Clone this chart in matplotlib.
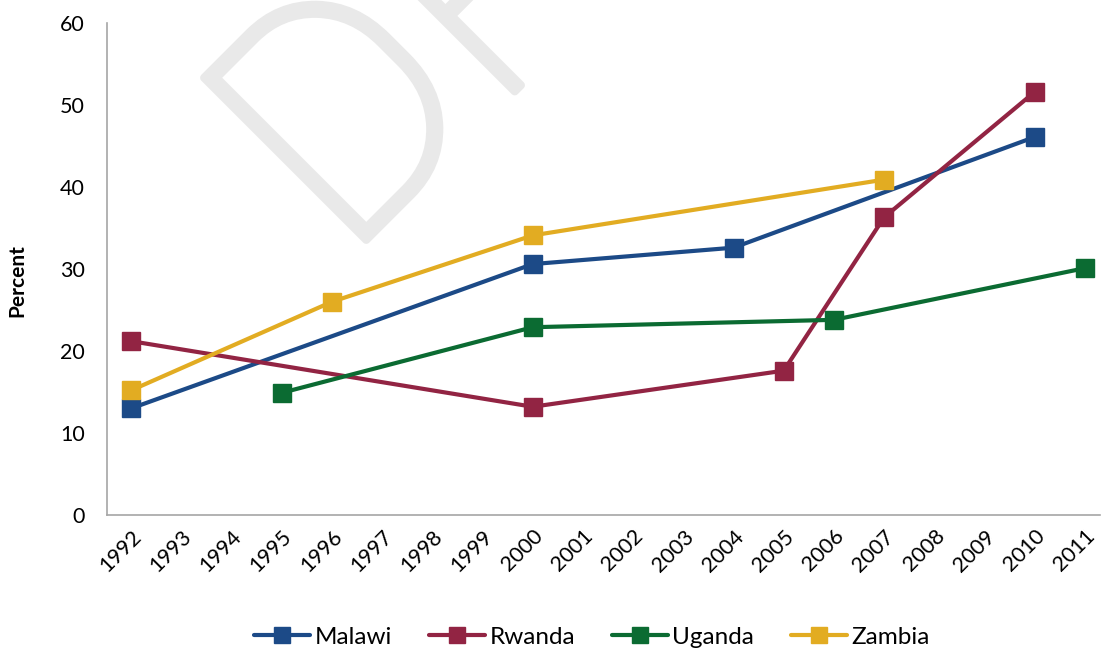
import numpy as np
import matplotlib.pyplot as plt
import matplotlib.patheffects as pe

plt.rcParams['font.family'] = ['Lato', 'DejaVu Sans']

years = [str(y) for y in range(1992, 2012)]

# (year, value) pairs
malawi_years = [1992, 2000, 2004, 2010]
malawi_vals = [13.0, 30.6, 32.6, 46.1]
rwanda_years = [1992, 2000, 2005, 2007, 2010]
rwanda_vals = [21.2, 13.2, 17.6, 36.3, 51.6]
uganda_years = [1995, 2000, 2006, 2011]
uganda_vals = [14.9, 22.9, 23.8, 30.1]
zambia_years = [1992, 1996, 2000, 2007]
zambia_vals = [15.2, 26.0, 34.1, 40.9]

series = [
    ('Malawi', malawi_years, malawi_vals, '#1c4a87'),
    ('Rwanda', rwanda_years, rwanda_vals, '#922443'),
    ('Uganda', uganda_years, uganda_vals, '#0b6b32'),
    ('Zambia', zambia_years, zambia_vals, '#e2ac22'),
]

fig = plt.figure(figsize=(11.02, 6.54), dpi=100)
# axes box in pixels: left 107, right 1100, top 23, bottom 515
ax = fig.add_axes([107/1102, 1 - 515/654, (1100-107)/1102, (515-23)/654])

# watermark
wm_col = '#e9e9e9'
fig.text(344/1102, 1 - 262/654, 'DRAFT', rotation=45, rotation_mode='anchor',
         ha='left', va='baseline', fontsize=232, color=wm_col,
         family='Roboto', fontweight='light', zorder=0,
         path_effects=[pe.withStroke(linewidth=6, foreground=wm_col)])
ax.set_facecolor('none')

for name, yrs, vals, col in series:
    xs = [y - 1992 for y in yrs]
    ax.plot(xs, vals, color=col, lw=3, marker='s', ms=13, label=name,
            solid_capstyle='round', zorder=3)

ax.set_xlim(-0.48, 19.3)
ax.set_ylim(0, 60)
ax.set_xticks(range(len(years)))
ax.set_xticklabels(years, rotation=45, ha='right', va='top',
                   rotation_mode='anchor', fontsize=15.5)
ax.set_yticks(np.arange(0, 61, 10))
ax.tick_params(axis='y', length=0, labelsize=15.5, pad=16)
ax.tick_params(axis='x', length=0, pad=8)
ax.spines['top'].set_visible(False)
ax.spines['right'].set_visible(False)
ax.spines['left'].set_color('#a6a6a6')
ax.spines['bottom'].set_color('#a6a6a6')
ax.spines['left'].set_linewidth(1.2)
ax.spines['bottom'].set_linewidth(1.2)
ax.set_ylabel('Percent', fontsize=15, fontweight='bold')
ax.yaxis.set_label_coords(-0.08, 0.476)

leg = fig.legend(loc='center', bbox_to_anchor=(592/1102, 1 - 637/654), ncol=4,
                 frameon=False, fontsize=17.5, handlelength=2.3, columnspacing=1.5,
                 handletextpad=0.2, markerscale=0.85)

fig.savefig('out.png', dpi=100)
